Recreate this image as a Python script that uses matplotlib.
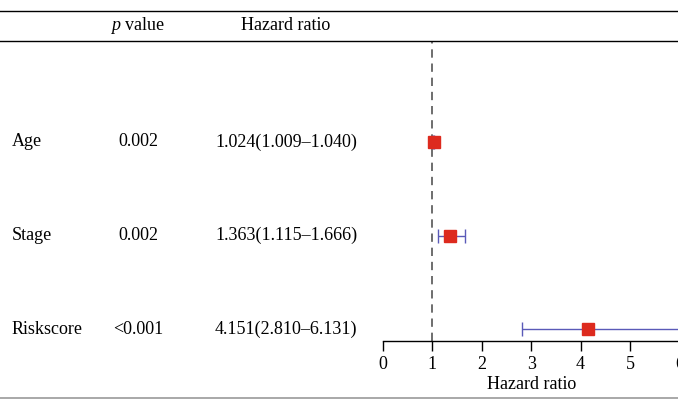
import numpy as np
import matplotlib
matplotlib.use('Agg')
import matplotlib.pyplot as plt
from matplotlib.lines import Line2D

# data
names = ['Age', 'Stage', 'Riskscore']
pvals = ['0.002', '0.002', '<0.001']
hr = np.array([1.024, 1.363, 4.151])
lo = np.array([1.009, 1.115, 2.810])
hi = np.array([1.040, 1.666, 6.131])
xticks = [0, 1, 2, 3, 4, 5, 6]

plt.rcParams['font.family'] = 'Liberation Serif'
plt.rcParams['mathtext.fontset'] = 'custom'
plt.rcParams['mathtext.it'] = 'Liberation Serif:italic'
plt.rcParams['mathtext.rm'] = 'Liberation Serif'

W, H = 678, 400
fig = plt.figure(figsize=(W / 100, H / 100), dpi=100)

def fx(px):
    return px / W

def fy(py):
    return 1 - py / H

# horizontal rules
fig.add_artist(Line2D([0, 1], [fy(11), fy(11)], color='black', lw=1.0))
fig.add_artist(Line2D([0, 1], [fy(41), fy(41)], color='black', lw=1.0))
fig.add_artist(Line2D([0, 1], [fy(398), fy(398)], color='#999999', lw=1.2))

fs = 13
fig.text(fx(138), fy(26), '$p$ value', ha='center', va='center', fontsize=fs)
fig.text(fx(286), fy(26), 'Hazard ratio', ha='center', va='center', fontsize=fs)

row_px = [142, 235, 329]
for name, p, h, l, u, ry in zip(names, pvals, hr, lo, hi, row_px):
    fig.text(fx(12), fy(ry), name, ha='left', va='center', fontsize=fs)
    fig.text(fx(138), fy(ry), p, ha='center', va='center', fontsize=fs)
    fig.text(fx(286), fy(ry), f'{h:.3f}({l:.3f}\u2013{u:.3f})',
             ha='center', va='center', fontsize=fs)

# forest axes
unit = 49.4
left_px = 383
ax = fig.add_axes([fx(left_px), fy(341), 6 * unit / W, (341 - 41) / H])
ax.set_xlim(0, 6)
ypos = np.array([3, 2, 1])
ax.set_ylim(1 - 12 / 93.5, 3 + (142 - 41) / 93.5)

ax.axvline(1, color='#555555', lw=1.2, ls=(0, (5, 3.5)))
ax.errorbar(hr, ypos, xerr=[hr - lo, hi - hr], fmt='none', ecolor='#5a5ab8',
            elinewidth=1.0, capsize=5, capthick=1.0)
ax.plot(hr, ypos, 's', color='#dd2a1e', markersize=9, mec='#dd2a1e')

for s in ['top', 'right', 'left']:
    ax.spines[s].set_visible(False)
ax.spines['bottom'].set_linewidth(1.0)
ax.set_yticks([])
ax.set_xticks(xticks)
ax.tick_params(axis='x', direction='out', length=7, width=1.0, labelsize=fs, pad=4)
ax.set_xlabel('Hazard ratio', fontsize=fs, labelpad=2)
ax.patch.set_visible(False)

fig.savefig('out.png', dpi=100)
